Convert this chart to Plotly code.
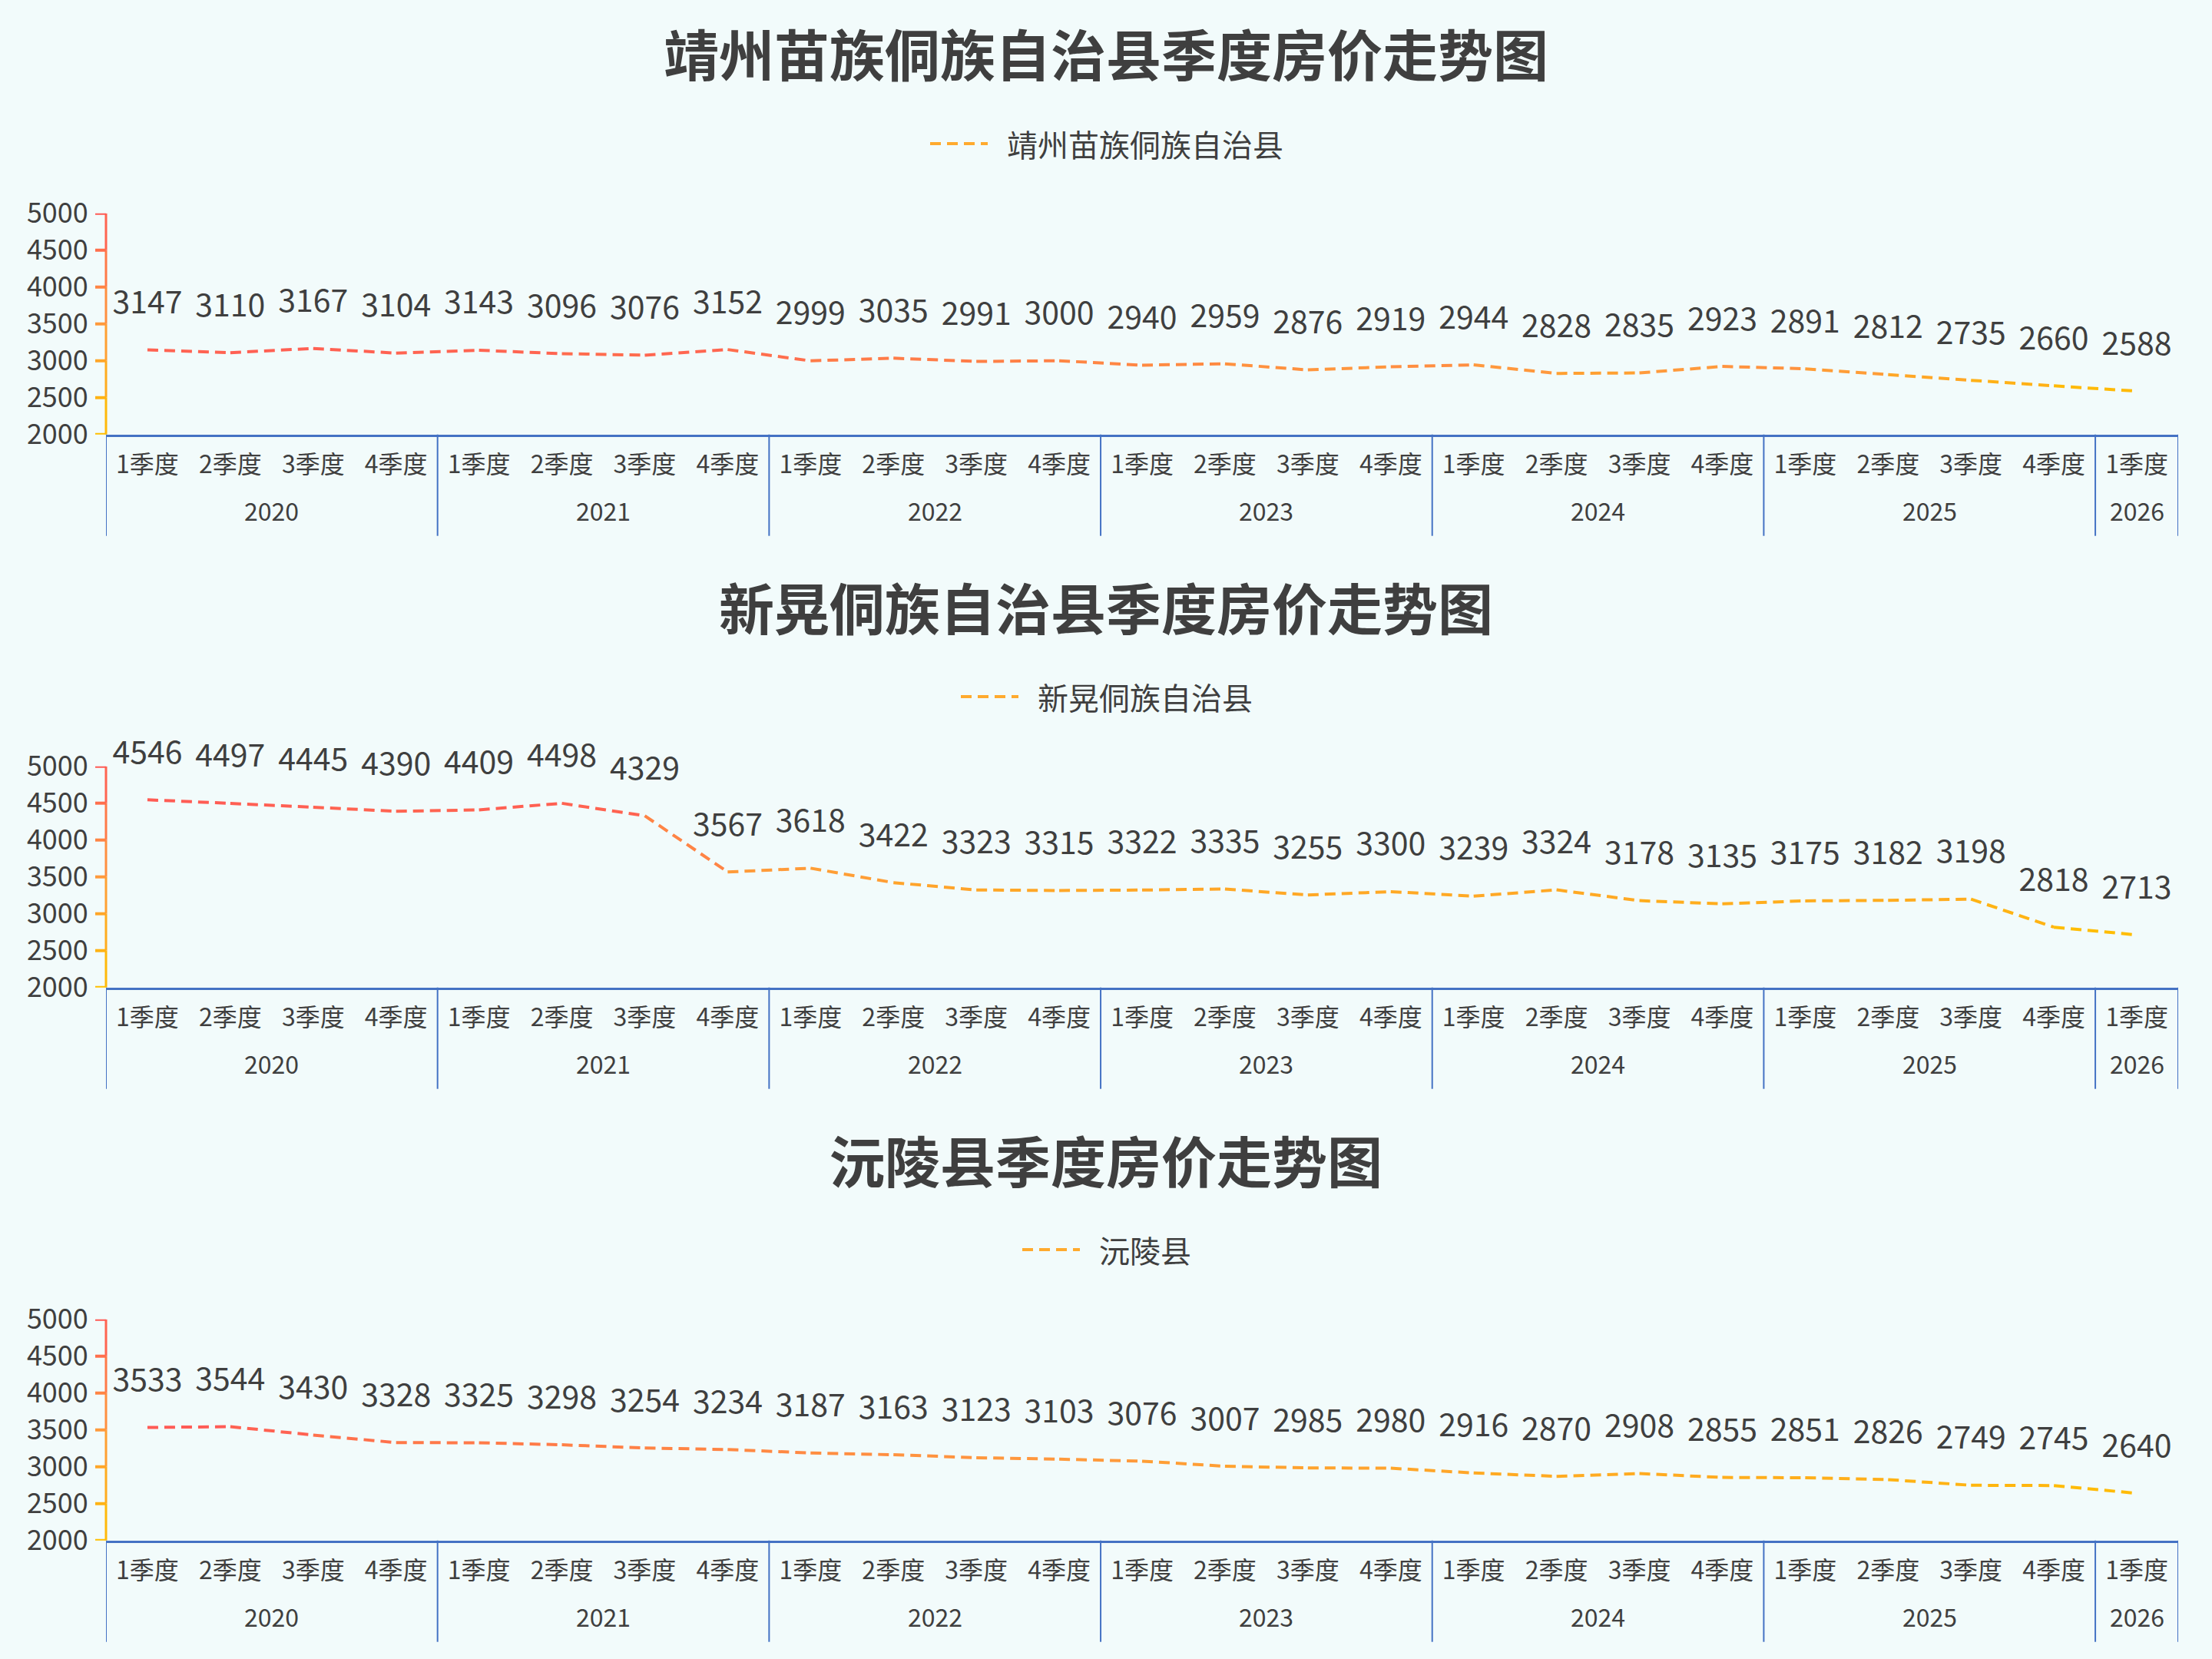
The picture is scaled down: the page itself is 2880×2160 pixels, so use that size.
import plotly.graph_objects as go
from plotly.colors import sample_colorscale

# quarterly house prices, 2020 Q1 .. 2026 Q1
years = ["2020"] * 4 + ["2021"] * 4 + ["2022"] * 4 + ["2023"] * 4 + ["2024"] * 4 + ["2025"] * 4 + ["2026"]
quarters = ["1季度", "2季度", "3季度", "4季度"] * 6 + ["1季度"]

names = ["靖州苗族侗族自治县", "新晃侗族自治县", "沅陵县"]

jingzhou = [3147, 3110, 3167, 3104, 3143, 3096, 3076, 3152, 2999, 3035, 2991, 3000,
            2940, 2959, 2876, 2919, 2944, 2828, 2835, 2923, 2891, 2812, 2735, 2660, 2588]
xinhuang = [4546, 4497, 4445, 4390, 4409, 4498, 4329, 3567, 3618, 3422, 3323, 3315,
            3322, 3335, 3255, 3300, 3239, 3324, 3178, 3135, 3175, 3182, 3198, 2818, 2713]
yuanling = [3533, 3544, 3430, 3328, 3325, 3298, 3254, 3234, 3187, 3163, 3123, 3103,
            3076, 3007, 2985, 2980, 2916, 2870, 2908, 2855, 2851, 2826, 2749, 2745, 2640]

series = [jingzhou, xinhuang, yuanling]
yticks = [2000, 2500, 3000, 3500, 4000, 4500, 5000]

# unique category keys, shown with the quarter name only
keys = [y + "-" + q for y, q in zip(years, quarters)]

# year groups: first/last index of each year
groups = []
for idx, y in enumerate(years):
    if groups and groups[-1][0] == y:
        groups[-1][2] = idx
    else:
        groups.append([y, idx, idx])

# yellow (low) -> red (high)
grad = [[0, "#FFBF00"], [0.5, "#FF9A3C"], [1, "#FF5A55"]]
legend_color = "#FFAA2E"
text_color = "#3F3F3F"
axis_blue = "#4472C4"
font_family = "Noto Sans CJK SC, Noto Sans, sans-serif"

W, H = 2880, 2160
block = 720
plot_top, plot_bottom = 277.7, 565.7
x_dom = [138 / W, 2836 / W]
legend_font = 40


def color_at(v, lo, hi):
    t = (v - lo) / (hi - lo) if hi > lo else 0.5
    return sample_colorscale(grad, [min(max(t, 0), 1)])[0]


fig = go.Figure()
shapes = []
annotations = []
layout = {}

for i, (name, vals) in enumerate(zip(names, series)):
    sfx = "" if i == 0 else str(i + 1)
    xa, ya = "x" + sfx, "y" + sfx
    lo, hi = min(vals), max(vals)

    # dashed line, split in segments so the colour follows the value
    for k in range(len(vals) - 1):
        mid = (vals[k] + vals[k + 1]) / 2
        fig.add_trace(go.Scatter(
            x=keys[k:k + 2],
            y=vals[k:k + 2],
            mode="lines",
            line=dict(color=color_at(mid, lo, hi), width=4, dash="14px,8px"),
            name=name,
            showlegend=False,
            hoverinfo="skip",
            xaxis=xa, yaxis=ya,
        ))

    # value labels
    fig.add_trace(go.Scatter(
        x=keys,
        y=vals,
        mode="markers+text",
        marker=dict(size=58, opacity=0),
        text=[str(v) for v in vals],
        textposition="top center",
        textfont=dict(size=41, color=text_color, family=font_family),
        cliponaxis=False,
        name=name,
        showlegend=False,
        hovertemplate=name + "<br>%{text}<extra></extra>",
        xaxis=xa, yaxis=ya,
    ))

    top = plot_top + block * i
    bottom = plot_bottom + block * i
    y_dom = [1 - bottom / H, 1 - top / H]

    layout["xaxis" + sfx] = dict(
        domain=x_dom, anchor=ya, type="category",
        categoryorder="array", categoryarray=keys,
        tickvals=keys, ticktext=quarters,
        range=[-0.5, len(vals) - 0.5],
        showline=True, linecolor=axis_blue, linewidth=3,
        ticks="", ticklabelstandoff=9,
        showgrid=False, zeroline=False, automargin=False,
        tickfont=dict(size=32, color=text_color, family=font_family),
    )
    layout["yaxis" + sfx] = dict(
        domain=y_dom, anchor=xa, range=[yticks[0], yticks[-1]],
        tickvals=yticks, ticks="outside", ticklen=14, tickcolor="rgba(0,0,0,0)",
        ticklabelstandoff=1, automargin=False,
        showline=False, showgrid=False, zeroline=False,
        tickfont=dict(size=36, color=text_color, family=font_family),
    )

    # gradient y axis line and coloured ticks
    for j in range(len(yticks) - 1):
        shapes.append(dict(
            type="line", xref=xa + " domain", yref=ya,
            x0=0, x1=0, y0=yticks[j], y1=yticks[j + 1],
            line=dict(color=color_at((yticks[j] + yticks[j + 1]) / 2, yticks[0], yticks[-1]), width=3),
        ))
    for t in yticks:
        shapes.append(dict(
            type="line", xref=xa + " domain", yref=ya, xsizemode="pixel", xanchor=0,
            x0=-14, x1=0, y0=t, y1=t,
            line=dict(color=color_at(t, yticks[0], yticks[-1]), width=4),
        ))

    # year labels and group dividers under the axis
    for y, first, last in groups:
        annotations.append(dict(
            text=y, xref=xa, yref=ya + " domain", x=(first + last) / 2, y=0,
            yshift=-98, xanchor="center", yanchor="middle", showarrow=False,
            font=dict(size=32, color=text_color, family=font_family),
        ))
    for b in [g[1] - 0.5 for g in groups] + [groups[-1][2] + 0.5]:
        shapes.append(dict(
            type="line", xref=xa, yref=ya + " domain", ysizemode="pixel", yanchor=0,
            x0=b, x1=b, y0=-132, y1=0,
            line=dict(color=axis_blue, width=2),
        ))

    # title
    annotations.append(dict(
        text="<b>" + name + "季度房价走势图</b>",
        xref="paper", yref="paper", x=0.5, y=1 - (68 + block * i) / H,
        xanchor="center", yanchor="middle", showarrow=False,
        font=dict(size=72, color=text_color, family=font_family),
    ))

    # legend: dashed sample + name, centred as a group
    total = 75 + 23 + legend_font * len(name)
    x_start = W / 2 - total / 2
    ly = 1 - (187 + block * i) / H
    shapes.append(dict(
        type="line", xref="paper", yref="paper",
        x0=x_start / W, x1=(x_start + 75) / W, y0=ly, y1=ly,
        line=dict(color=legend_color, width=4, dash="14px,8px"),
    ))
    annotations.append(dict(
        text=name, xref="paper", yref="paper",
        x=(x_start + 98) / W, y=ly, xanchor="left", yanchor="middle",
        showarrow=False,
        font=dict(size=legend_font, color=text_color, family=font_family),
    ))

fig.update_layout(
    width=W, height=H,
    margin=dict(l=0, r=0, t=0, b=0, autoexpand=False),
    paper_bgcolor="#F2FBFB",
    plot_bgcolor="rgba(0,0,0,0)",
    font=dict(family=font_family, color=text_color),
    shapes=shapes,
    annotations=annotations,
    showlegend=False,
    hovermode="closest",
    **layout,
)

fig.write_html("out.html", config={"displayModeBar": False},
               post_script="document.body.style.margin='0';")
